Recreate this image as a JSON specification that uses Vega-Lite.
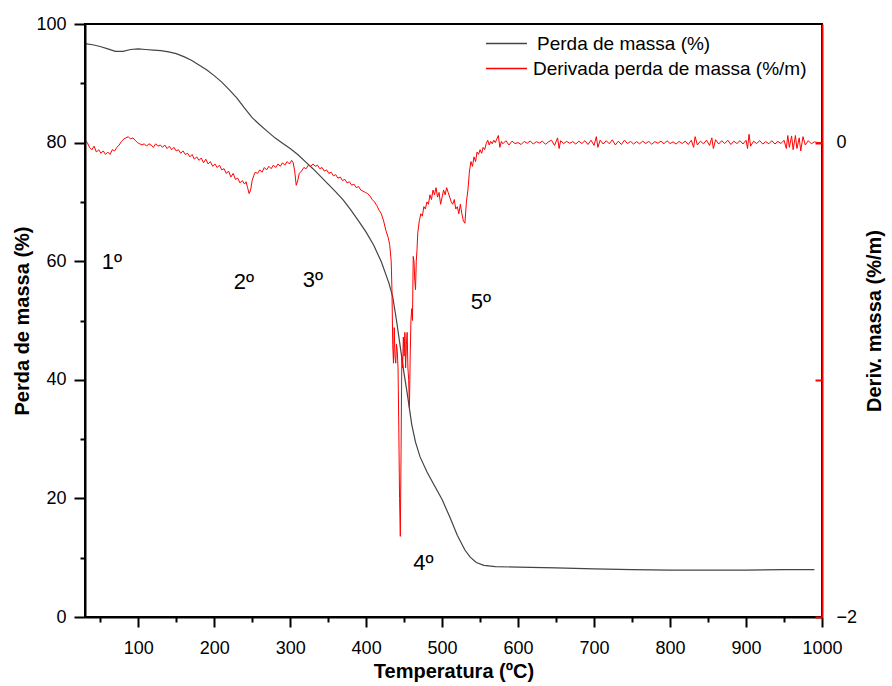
{
  "$schema": "https://vega.github.io/schema/vega-lite/v6.json",
  "width": 737,
  "height": 593,
  "autosize": {"type": "none"},
  "padding": {"left": 85, "top": 24, "right": 70, "bottom": 69},
  "background": "white",
  "config": {
    "font": "Liberation Sans",
    "view": {"stroke": "#000", "strokeWidth": 2},
    "axis": {"grid": false, "ticks": true, "labelFont": "Liberation Sans", "titleFont": "Liberation Sans", "labelColor": "#000", "titleColor": "#000"}
  },
  "datasets": {
    "mass": [
      {"t": 30, "m": 96.7}, {"t": 40, "m": 96.5}, {"t": 50, "m": 96.2}, {"t": 60, "m": 95.8}, {"t": 70, "m": 95.4},
      {"t": 80, "m": 95.4}, {"t": 90, "m": 95.7}, {"t": 100, "m": 95.8}, {"t": 110, "m": 95.7}, {"t": 120, "m": 95.6},
      {"t": 130, "m": 95.5}, {"t": 140, "m": 95.3}, {"t": 150, "m": 95.0}, {"t": 160, "m": 94.5}, {"t": 170, "m": 93.9},
      {"t": 180, "m": 93.1}, {"t": 190, "m": 92.3}, {"t": 200, "m": 91.3}, {"t": 210, "m": 90.2}, {"t": 220, "m": 88.9},
      {"t": 230, "m": 87.5}, {"t": 240, "m": 85.8}, {"t": 250, "m": 84.2}, {"t": 260, "m": 83.0}, {"t": 270, "m": 81.9},
      {"t": 280, "m": 80.8}, {"t": 290, "m": 79.9}, {"t": 300, "m": 79.0}, {"t": 310, "m": 78.0}, {"t": 320, "m": 76.8},
      {"t": 330, "m": 75.6}, {"t": 340, "m": 74.3}, {"t": 350, "m": 73.0}, {"t": 360, "m": 71.7}, {"t": 370, "m": 70.3},
      {"t": 380, "m": 68.6}, {"t": 390, "m": 66.8}, {"t": 400, "m": 64.9}, {"t": 410, "m": 62.7}, {"t": 420, "m": 59.9},
      {"t": 430, "m": 56.3}, {"t": 435, "m": 54.0}, {"t": 440, "m": 50.0}, {"t": 445, "m": 45.5}, {"t": 450, "m": 41.0},
      {"t": 454, "m": 37.8}, {"t": 460, "m": 32.5}, {"t": 465, "m": 29.5}, {"t": 471, "m": 27.0}, {"t": 480, "m": 24.5},
      {"t": 488, "m": 22.6}, {"t": 500, "m": 19.8}, {"t": 510, "m": 16.9}, {"t": 520, "m": 13.8}, {"t": 530, "m": 11.3},
      {"t": 537, "m": 10.1}, {"t": 545, "m": 9.2}, {"t": 555, "m": 8.7}, {"t": 570, "m": 8.5}, {"t": 600, "m": 8.4},
      {"t": 650, "m": 8.3}, {"t": 700, "m": 8.1}, {"t": 750, "m": 8.0}, {"t": 800, "m": 7.9}, {"t": 850, "m": 7.9},
      {"t": 900, "m": 7.9}, {"t": 950, "m": 8.0}, {"t": 990, "m": 8.0}
    ],
    "deriv": [
      {"t": 30, "d": 0.01}, {"t": 33, "d": 0.0}, {"t": 36, "d": -0.02}, {"t": 39, "d": -0.03}, {"t": 42, "d": -0.015},
      {"t": 45, "d": -0.04}, {"t": 48, "d": -0.03}, {"t": 51, "d": -0.045}, {"t": 54, "d": -0.035}, {"t": 57, "d": -0.05},
      {"t": 60, "d": -0.04}, {"t": 63, "d": -0.05}, {"t": 66, "d": -0.03}, {"t": 69, "d": -0.035}, {"t": 72, "d": -0.02},
      {"t": 75, "d": -0.01}, {"t": 78, "d": 0.005}, {"t": 81, "d": 0.015}, {"t": 84, "d": 0.02}, {"t": 87, "d": 0.025},
      {"t": 90, "d": 0.015}, {"t": 93, "d": 0.02}, {"t": 96, "d": 0.01}, {"t": 99, "d": 0.0}, {"t": 102, "d": -0.005},
      {"t": 105, "d": -0.01}, {"t": 108, "d": -0.005}, {"t": 111, "d": -0.015}, {"t": 114, "d": -0.005}, {"t": 117, "d": -0.01},
      {"t": 120, "d": -0.02}, {"t": 123, "d": -0.005}, {"t": 126, "d": -0.015}, {"t": 129, "d": -0.01}, {"t": 132, "d": -0.02},
      {"t": 135, "d": -0.01}, {"t": 138, "d": -0.025}, {"t": 141, "d": -0.015}, {"t": 144, "d": -0.03}, {"t": 147, "d": -0.02},
      {"t": 150, "d": -0.035}, {"t": 153, "d": -0.03}, {"t": 156, "d": -0.045}, {"t": 159, "d": -0.035}, {"t": 162, "d": -0.05},
      {"t": 165, "d": -0.045}, {"t": 168, "d": -0.06}, {"t": 171, "d": -0.05}, {"t": 174, "d": -0.07}, {"t": 177, "d": -0.06},
      {"t": 180, "d": -0.075}, {"t": 183, "d": -0.065}, {"t": 186, "d": -0.085}, {"t": 189, "d": -0.07}, {"t": 192, "d": -0.09},
      {"t": 195, "d": -0.08}, {"t": 198, "d": -0.1}, {"t": 201, "d": -0.09}, {"t": 204, "d": -0.105}, {"t": 207, "d": -0.095},
      {"t": 210, "d": -0.115}, {"t": 213, "d": -0.11}, {"t": 216, "d": -0.13}, {"t": 219, "d": -0.12}, {"t": 222, "d": -0.145},
      {"t": 225, "d": -0.13}, {"t": 228, "d": -0.155}, {"t": 231, "d": -0.15}, {"t": 234, "d": -0.17}, {"t": 237, "d": -0.16},
      {"t": 240, "d": -0.175}, {"t": 242, "d": -0.165}, {"t": 244, "d": -0.19}, {"t": 246, "d": -0.215}, {"t": 248, "d": -0.2},
      {"t": 250, "d": -0.16}, {"t": 252, "d": -0.14}, {"t": 254, "d": -0.125}, {"t": 257, "d": -0.13}, {"t": 260, "d": -0.115},
      {"t": 263, "d": -0.125}, {"t": 266, "d": -0.105}, {"t": 269, "d": -0.115}, {"t": 272, "d": -0.1}, {"t": 275, "d": -0.11},
      {"t": 278, "d": -0.095}, {"t": 281, "d": -0.105}, {"t": 284, "d": -0.09}, {"t": 287, "d": -0.1}, {"t": 290, "d": -0.085},
      {"t": 293, "d": -0.095}, {"t": 296, "d": -0.08}, {"t": 299, "d": -0.09}, {"t": 302, "d": -0.075}, {"t": 304, "d": -0.085},
      {"t": 306, "d": -0.12}, {"t": 308, "d": -0.18}, {"t": 310, "d": -0.16}, {"t": 312, "d": -0.13}, {"t": 315, "d": -0.12},
      {"t": 318, "d": -0.105}, {"t": 321, "d": -0.11}, {"t": 324, "d": -0.095}, {"t": 327, "d": -0.1}, {"t": 330, "d": -0.09},
      {"t": 333, "d": -0.1}, {"t": 336, "d": -0.095}, {"t": 339, "d": -0.11}, {"t": 342, "d": -0.105}, {"t": 345, "d": -0.12},
      {"t": 348, "d": -0.115}, {"t": 351, "d": -0.13}, {"t": 354, "d": -0.125}, {"t": 357, "d": -0.14}, {"t": 360, "d": -0.135},
      {"t": 363, "d": -0.15}, {"t": 366, "d": -0.145}, {"t": 369, "d": -0.16}, {"t": 372, "d": -0.155}, {"t": 375, "d": -0.17},
      {"t": 378, "d": -0.165}, {"t": 381, "d": -0.18}, {"t": 384, "d": -0.175}, {"t": 387, "d": -0.19}, {"t": 390, "d": -0.185},
      {"t": 393, "d": -0.2}, {"t": 396, "d": -0.205}, {"t": 399, "d": -0.21}, {"t": 402, "d": -0.215}, {"t": 405, "d": -0.225},
      {"t": 408, "d": -0.24}, {"t": 411, "d": -0.25}, {"t": 414, "d": -0.265}, {"t": 417, "d": -0.285}, {"t": 420, "d": -0.3},
      {"t": 423, "d": -0.33}, {"t": 426, "d": -0.37}, {"t": 429, "d": -0.4}, {"t": 431, "d": -0.43}, {"t": 433, "d": -0.5},
      {"t": 434, "d": -0.62}, {"t": 435, "d": -0.85}, {"t": 436, "d": -0.93}, {"t": 437, "d": -0.78}, {"t": 438, "d": -0.9},
      {"t": 439, "d": -0.93}, {"t": 440, "d": -0.85}, {"t": 441, "d": -0.88}, {"t": 442, "d": -0.95}, {"t": 443, "d": -1.2},
      {"t": 444, "d": -1.5}, {"t": 445, "d": -1.66}, {"t": 446, "d": -1.3}, {"t": 447, "d": -0.9}, {"t": 448, "d": -0.95},
      {"t": 449, "d": -0.82}, {"t": 450, "d": -0.9}, {"t": 451, "d": -0.8}, {"t": 452, "d": -0.95}, {"t": 453, "d": -0.85},
      {"t": 454, "d": -0.8}, {"t": 455, "d": -0.95}, {"t": 456, "d": -1.0}, {"t": 457, "d": -1.12}, {"t": 458, "d": -0.9},
      {"t": 459, "d": -0.75}, {"t": 460, "d": -0.7}, {"t": 461, "d": -0.75}, {"t": 462, "d": -0.48}, {"t": 463, "d": -0.5},
      {"t": 464, "d": -0.58}, {"t": 465, "d": -0.62}, {"t": 466, "d": -0.5}, {"t": 467, "d": -0.45}, {"t": 468, "d": -0.38},
      {"t": 470, "d": -0.33}, {"t": 472, "d": -0.3}, {"t": 474, "d": -0.31}, {"t": 476, "d": -0.27}, {"t": 478, "d": -0.28},
      {"t": 480, "d": -0.25}, {"t": 482, "d": -0.26}, {"t": 484, "d": -0.22}, {"t": 486, "d": -0.24}, {"t": 488, "d": -0.2},
      {"t": 490, "d": -0.22}, {"t": 492, "d": -0.19}, {"t": 494, "d": -0.23}, {"t": 496, "d": -0.21}, {"t": 498, "d": -0.26},
      {"t": 500, "d": -0.23}, {"t": 502, "d": -0.2}, {"t": 504, "d": -0.22}, {"t": 506, "d": -0.19}, {"t": 508, "d": -0.21},
      {"t": 510, "d": -0.23}, {"t": 512, "d": -0.25}, {"t": 514, "d": -0.26}, {"t": 516, "d": -0.24}, {"t": 518, "d": -0.28},
      {"t": 520, "d": -0.27}, {"t": 522, "d": -0.3}, {"t": 524, "d": -0.26}, {"t": 526, "d": -0.3}, {"t": 528, "d": -0.33},
      {"t": 530, "d": -0.34}, {"t": 532, "d": -0.25}, {"t": 534, "d": -0.2}, {"t": 536, "d": -0.12}, {"t": 538, "d": -0.08},
      {"t": 540, "d": -0.1}, {"t": 542, "d": -0.06}, {"t": 544, "d": -0.08}, {"t": 546, "d": -0.04}, {"t": 548, "d": -0.05},
      {"t": 550, "d": -0.03}, {"t": 552, "d": -0.045}, {"t": 554, "d": -0.02}, {"t": 556, "d": -0.03}, {"t": 558, "d": -0.005},
      {"t": 560, "d": 0.01}, {"t": 562, "d": -0.01}, {"t": 564, "d": 0.005}, {"t": 566, "d": -0.005}, {"t": 568, "d": 0.01},
      {"t": 570, "d": 0.0}, {"t": 572, "d": 0.015}, {"t": 574, "d": 0.03}, {"t": 576, "d": -0.02}, {"t": 578, "d": 0.005},
      {"t": 580, "d": -0.005}, {"t": 584, "d": 0.008}, {"t": 588, "d": -0.01}, {"t": 592, "d": 0.006}, {"t": 596, "d": -0.004},
      {"t": 600, "d": 0.0}, {"t": 604, "d": -0.008}, {"t": 608, "d": 0.005}, {"t": 612, "d": -0.003}, {"t": 616, "d": 0.007},
      {"t": 620, "d": -0.006}, {"t": 624, "d": 0.004}, {"t": 628, "d": -0.002}, {"t": 632, "d": 0.006}, {"t": 636, "d": -0.007},
      {"t": 640, "d": 0.003}, {"t": 644, "d": 0.01}, {"t": 648, "d": -0.012}, {"t": 652, "d": 0.02}, {"t": 654, "d": -0.025},
      {"t": 656, "d": 0.008}, {"t": 660, "d": -0.004}, {"t": 664, "d": 0.005}, {"t": 668, "d": -0.003}, {"t": 672, "d": 0.004},
      {"t": 676, "d": -0.006}, {"t": 680, "d": 0.006}, {"t": 684, "d": -0.004}, {"t": 688, "d": 0.008}, {"t": 692, "d": -0.008},
      {"t": 696, "d": 0.01}, {"t": 700, "d": -0.012}, {"t": 703, "d": 0.025}, {"t": 705, "d": -0.02}, {"t": 708, "d": 0.01},
      {"t": 712, "d": -0.006}, {"t": 716, "d": 0.008}, {"t": 720, "d": -0.005}, {"t": 724, "d": 0.012}, {"t": 728, "d": -0.01},
      {"t": 732, "d": 0.006}, {"t": 736, "d": -0.008}, {"t": 740, "d": 0.01}, {"t": 744, "d": -0.004}, {"t": 748, "d": 0.005},
      {"t": 752, "d": -0.006}, {"t": 756, "d": 0.004}, {"t": 760, "d": -0.005}, {"t": 764, "d": 0.006}, {"t": 768, "d": -0.004},
      {"t": 772, "d": 0.005}, {"t": 776, "d": -0.007}, {"t": 780, "d": 0.004}, {"t": 784, "d": -0.003}, {"t": 788, "d": 0.006},
      {"t": 792, "d": -0.005}, {"t": 796, "d": 0.008}, {"t": 800, "d": -0.004}, {"t": 804, "d": 0.003}, {"t": 808, "d": -0.006},
      {"t": 812, "d": 0.005}, {"t": 816, "d": -0.004}, {"t": 820, "d": 0.006}, {"t": 824, "d": -0.008}, {"t": 828, "d": 0.01},
      {"t": 831, "d": -0.02}, {"t": 833, "d": 0.025}, {"t": 836, "d": -0.01}, {"t": 840, "d": 0.006}, {"t": 844, "d": -0.005},
      {"t": 848, "d": 0.01}, {"t": 852, "d": -0.012}, {"t": 855, "d": 0.02}, {"t": 857, "d": -0.025}, {"t": 860, "d": 0.012},
      {"t": 864, "d": -0.006}, {"t": 868, "d": 0.008}, {"t": 872, "d": -0.004}, {"t": 876, "d": 0.01}, {"t": 880, "d": -0.008},
      {"t": 884, "d": 0.006}, {"t": 888, "d": -0.004}, {"t": 892, "d": 0.008}, {"t": 896, "d": -0.006}, {"t": 900, "d": 0.01},
      {"t": 902, "d": -0.025}, {"t": 904, "d": 0.035}, {"t": 906, "d": -0.015}, {"t": 910, "d": 0.006}, {"t": 914, "d": -0.004},
      {"t": 918, "d": 0.008}, {"t": 922, "d": -0.006}, {"t": 926, "d": 0.004}, {"t": 930, "d": -0.005}, {"t": 934, "d": 0.008},
      {"t": 938, "d": -0.006}, {"t": 942, "d": 0.005}, {"t": 946, "d": -0.004}, {"t": 950, "d": 0.01}, {"t": 953, "d": -0.025},
      {"t": 955, "d": 0.03}, {"t": 957, "d": -0.02}, {"t": 960, "d": 0.028}, {"t": 962, "d": -0.03}, {"t": 965, "d": 0.03},
      {"t": 967, "d": -0.025}, {"t": 970, "d": 0.02}, {"t": 972, "d": -0.035}, {"t": 975, "d": 0.025}, {"t": 978, "d": -0.01},
      {"t": 982, "d": 0.008}, {"t": 986, "d": -0.005}, {"t": 990, "d": 0.003}, {"t": 995, "d": 0.0}, {"t": 1000, "d": 0.0}
    ],
    "labels": [
      {"t": 65.5, "y": 59.9, "txt": "1º"},
      {"t": 239, "y": 56.5, "txt": "2º"},
      {"t": 330, "y": 56.8, "txt": "3º"},
      {"t": 475.5, "y": 9.1, "txt": "4º"},
      {"t": 551, "y": 53.1, "txt": "5º"}
    ]
  },
  "layer": [
    {
      "data": {"name": "mass"},
      "mark": {"type": "line", "strokeWidth": 1.2},
      "encoding": {
        "x": {"field": "t", "type": "quantitative", "scale": {"domain": [30, 1000], "nice": false, "zero": false},
          "axis": {"values": [100, 200, 300, 400, 500, 600, 700, 800, 900, 1000], "format": "d", "title": "Temperatura (ºC)", "titleFontSize": 20, "titleFontWeight": "bold", "titlePadding": 4, "labelFontSize": 18, "labelFlush": false, "labelOverlap": false, "ticks": true, "tickSize": 10, "tickWidth": 2, "tickColor": "#000000", "tickOpacity": 1, "domainColor": "#000", "domainWidth": 2, "labelPadding": 12, "zindex": 1}},
        "y": {"field": "m", "type": "quantitative", "scale": {"domain": [0, 100], "nice": false},
          "axis": {"orient": "left", "values": [0, 20, 40, 60, 80, 100], "title": "Perda de massa (%)", "titleFontSize": 20, "titleFontWeight": "bold", "titlePadding": 3, "labelFontSize": 18, "ticks": true, "tickSize": 11, "tickWidth": 2, "tickColor": "#000000", "tickOpacity": 1, "domainColor": "#000", "domainWidth": 2, "labelPadding": 8, "zindex": 1}},
        "color": {"datum": "Perda de massa (%)", "type": "nominal",
          "scale": {"domain": ["Perda de massa (%)"], "range": ["#444444"]},
          "legend": {"orient": "none", "legendX": 400, "legendY": -2, "title": null, "symbolType": "stroke", "symbolSize": 1681, "symbolStrokeWidth": 1.5, "labelFontSize": 19, "labelLimit": 0, "labelColor": "#000", "labelOffset": 9, "padding": 0}}
      }
    },
    {
      "data": {"name": "deriv"},
      "mark": {"type": "line", "strokeWidth": 1},
      "encoding": {
        "x": {"field": "t", "type": "quantitative", "axis": null},
        "y": {"field": "d", "type": "quantitative", "scale": {"domain": [-2, 0.5], "nice": false, "zero": false},
          "axis": {"orient": "right", "values": [-2, -1, 0], "labelExpr": "datum.value == -1 ? '' : datum.label", "title": "Deriv. massa (%/m)", "titleAngle": 270, "titleFontSize": 20, "titleFontWeight": "bold", "titlePadding": 28, "labelFontSize": 18, "tickSize": -7, "tickWidth": 2, "tickColor": "#ff0000", "domainColor": "#ff0000", "domainWidth": 2, "labelPadding": 21, "zindex": 1}},
        "stroke": {"datum": "Derivada perda de massa (%/m)", "type": "nominal",
          "scale": {"domain": ["Derivada perda de massa (%/m)"], "range": ["#ff0000"]},
          "legend": {"orient": "none", "legendX": 400, "legendY": 23, "title": null, "symbolType": "stroke", "symbolSize": 1681, "symbolStrokeWidth": 1.5, "labelFontSize": 19, "labelLimit": 0, "labelColor": "#000", "labelOffset": 5, "padding": 0}}
      }
    },
    {
      "data": {"name": "labels"},
      "mark": {"type": "text", "fontSize": 22, "font": "Liberation Sans", "color": "#000", "align": "center", "baseline": "middle"},
      "encoding": {
        "x": {"field": "t", "type": "quantitative",
          "axis": {"orient": "bottom", "values": [50, 150, 250, 350, 450, 550, 650, 750, 850, 950], "labels": false, "domain": false, "title": null, "ticks": true, "tickSize": 5, "tickWidth": 2, "tickColor": "#000000", "tickOpacity": 1, "zindex": 1}},
        "y": {"field": "y", "type": "quantitative", "scale": {"domain": [0, 100], "nice": false},
          "axis": {"orient": "left", "values": [10, 30, 50, 70, 90], "labels": false, "domain": false, "title": null, "ticks": true, "tickSize": 5, "tickWidth": 2, "tickColor": "#000000", "tickOpacity": 1, "zindex": 1}},
        "text": {"field": "txt"}
      }
    }
  ],
  "resolve": {"scale": {"y": "independent"}, "axis": {"x": "independent", "y": "independent"}}
}
